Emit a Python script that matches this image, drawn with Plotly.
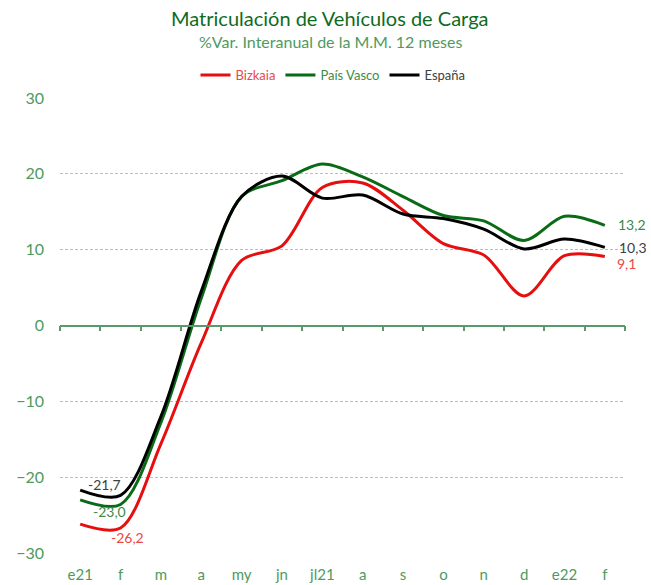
import plotly.graph_objects as go

months = ["e21", "f", "m", "a", "my", "jn", "jl21", "a", "s", "o", "n", "d", "e22", "f"]
bizkaia = [-26.2, -26.7, -15.6, -2.3, 8.6, 10.5, 18.2, 18.8, 15.2, 10.8, 9.3, 3.9, 9.2, 9.1]
pais_vasco = [-23.0, -23.6, -12.8, 3.6, 17.0, 19.1, 21.3, 19.6, 17.0, 14.5, 13.8, 11.2, 14.4, 13.2]
espana = [-21.7, -22.4, -12.0, 4.5, 17.0, 19.7, 16.8, 17.2, 14.7, 14.1, 12.7, 10.1, 11.4, 10.3]

series_names = ["Bizkaia", "País Vasco", "España"]
line_colors = ["#e60f0f", "#0a6b16", "#000000"]
text_colors = ["#e84848", "#3d8a4a", "#404040"]
values = [bizkaia, pais_vasco, espana]

x = list(range(len(months)))

fig = go.Figure()
for name, vals, lc, tc in zip(series_names, values, line_colors, text_colors):
    fig.add_trace(go.Scatter(
        x=x, y=vals, mode="lines",
        name=f"<span style='color:{tc}'>{name}</span>",
        line=dict(color=lc, width=3, shape="spline", smoothing=0.9),
        hoverinfo="skip",
    ))

def fmt(v):
    return f"{v:.1f}".replace(".", ",")

PL, PR, PT, PB = 60, 625, 98, 553
W, H = 651, 585
PW, PH = PR - PL, PB - PT

first_shift = [(47, -13), (29, -12), (24, 6)]
last_shift = [(22, -7), (27, 1), (28, 0)]
for vals, tc, (fx, fy), (lx, ly) in zip(values, text_colors, first_shift, last_shift):
    fig.add_annotation(x=x[0], y=vals[0], text=fmt(vals[0]), showarrow=False,
                       xshift=fx, yshift=fy, font=dict(color=tc, size=14, family="Lato"))
    fig.add_annotation(x=x[-1], y=vals[-1], text=fmt(vals[-1]), showarrow=False,
                       xshift=lx, yshift=ly, font=dict(color=tc, size=14, family="Lato"))

fig.add_annotation(xref="paper", yref="paper", x=(330 - PL) / PW, y=(PB - 18) / PH,
                   text="Matriculación de Vehículos de Carga", showarrow=False,
                   font=dict(color="#0e6b1e", size=20, family="Lato"), yanchor="middle")
fig.add_annotation(xref="paper", yref="paper", x=(330 - PL) / PW, y=(PB - 41) / PH,
                   text="%Var. Interanual de la M.M. 12 meses", showarrow=False,
                   font=dict(color="#4e9a5e", size=16, family="Lato"), yanchor="middle")

fig.update_layout(
    width=W, height=H,
    margin=dict(l=PL, r=W - PR, t=PT, b=H - PB),
    paper_bgcolor="white", plot_bgcolor="white",
    font=dict(family="Lato", size=14, color="#4e9a5e"),
    showlegend=True,
    legend=dict(orientation="h", x=(333 - PL) / PW, xanchor="center",
                y=(PB - 75) / PH, yanchor="middle",
                font=dict(size=13, family="Lato"), itemwidth=30),
    xaxis=dict(range=[-0.5, len(months) - 0.5], tickvals=x, ticktext=months,
               showgrid=False, zeroline=False, showline=False, ticks="", automargin=False,
               tickfont=dict(color="#4e9a5e", size=15), ticklabelstandoff=11),
    xaxis2=dict(range=[-0.5, len(months) - 0.5], overlaying="x", anchor="free", position=0.5,
                showline=True, linecolor="#5a9a6a", linewidth=1.5,
                ticks="outside", ticklen=5, tickcolor="#5a9a6a", tickwidth=1.5,
                tickvals=[i - 0.5 for i in range(len(months) + 1)], showticklabels=False,
                showgrid=False, zeroline=False),
    yaxis=dict(range=[-30, 30], dtick=10, showgrid=True, gridcolor="#a3cfa3",
               griddash="3px,2px", gridwidth=1, zeroline=False, showline=False, automargin=False,
               tickfont=dict(color="#4e9a5e", size=16), ticklabelstandoff=15),
)
fig.add_trace(go.Scatter(x=[0], y=[0], xaxis="x2", mode="markers", marker=dict(opacity=0),
                         showlegend=False, hoverinfo="skip"))

fig.write_html("out.html", config={"displayModeBar": False},
               post_script="document.body.style.margin='0';")
